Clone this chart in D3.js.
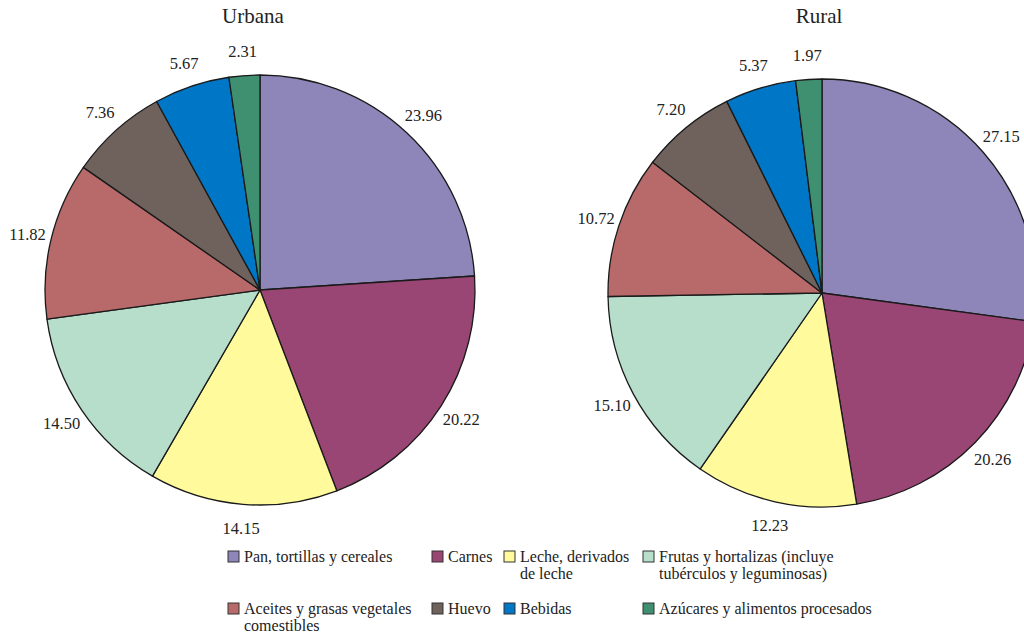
<!DOCTYPE html>
<html>
<head>
<meta charset="utf-8">
<script src="https://cdn.jsdelivr.net/npm/d3@7"></script>
<style>
  body { margin: 0; background: #fff; }
  svg { display: block; font-family: "Liberation Serif", "DejaVu Serif", serif; }
</style>
</head>
<body>
<div id="chart"></div>
<script>
// categories, in drawing order (clockwise from 12 o'clock)
const categories = [
    "Pan, tortillas y cereales",
    "Carnes",
    "Leche, derivados de leche",
    "Frutas y hortalizas (incluye tubérculos y leguminosas)",
    "Aceites y grasas vegetales comestibles",
    "Huevo",
    "Bebidas",
    "Azúcares y alimentos procesados"
];
// legend text split in lines as in the picture
const legendLines = [
    ["Pan, tortillas y cereales"],
    ["Carnes"],
    ["Leche, derivados", "de leche"],
    ["Frutas y hortalizas (incluye", "tubérculos y leguminosas)"],
    ["Aceites y grasas vegetales", "comestibles"],
    ["Huevo"],
    ["Bebidas"],
    ["Azúcares y alimentos procesados"]
];
const urbanaValues = [23.96, 20.22, 14.15, 14.50, 11.82, 7.36, 5.67, 2.31];
const ruralValues = [27.15, 20.26, 12.23, 15.10, 10.72, 7.20, 5.37, 1.97];
const titles = ["Urbana", "Rural"];
const colors = ["#8e86b8", "#9a4674", "#fffa9c", "#b6decb", "#b86a6a", "#6f625d", "#0077c6", "#3f9070"];

const width = 1024, height = 634;

const svg = d3.select("#chart")
    .append("svg")
    .attr("width", width)
    .attr("height", height);

const color = d3.scaleOrdinal().domain(categories).range(colors);

const pie = d3.pie().sort(null).value(d => d);

//Pie settings
const pies = [
    { title: titles[0], values: urbanaValues, cx: 260, cy: 290, r: 215, tx: 253 },
    { title: titles[1], values: ruralValues, cx: 822, cy: 293, r: 214, tx: 819 }
];

pies.forEach(p => {
    const g = svg.append("g").attr("transform", `translate(${p.cx},${p.cy})`);
    const arc = d3.arc().innerRadius(0).outerRadius(p.r);
    const labelArc = d3.arc().innerRadius(p.r + 24).outerRadius(p.r + 24);
    const arcs = pie(p.values);

    g.selectAll("path")
        .data(arcs)
        .enter()
        .append("path")
        .attr("d", arc)
        .attr("fill", (d, i) => color(categories[i]))
        .attr("stroke", "#1a1a1a")
        .attr("stroke-width", 1.3)
        .attr("stroke-linejoin", "round");

    g.selectAll("text.value")
        .data(arcs)
        .enter()
        .append("text")
        .attr("class", "value")
        .attr("transform", d => `translate(${labelArc.centroid(d)})`)
        .attr("text-anchor", "middle")
        .attr("dy", "0.35em")
        .attr("font-size", 16.5)
        .attr("fill", "#222")
        .text(d => d.data.toFixed(2));

    svg.append("text")
        .attr("x", p.tx)
        .attr("y", 23)
        .attr("text-anchor", "middle")
        .attr("font-size", 21)
        .attr("fill", "#222")
        .text(p.title);
});

//Legend
const colX = [228, 432, 504, 643];
const rowY = [556, 608];
const legend = svg.append("g").attr("class", "legend");

categories.forEach((c, i) => {
    const x = colX[i % 4];
    const y = rowY[Math.floor(i / 4)];
    legend.append("rect")
        .attr("x", x)
        .attr("y", y - 5)
        .attr("width", 11)
        .attr("height", 11)
        .attr("fill", color(c))
        .attr("stroke", "#333")
        .attr("stroke-width", 1);
    // one text per line so the lines stay apart
    legendLines[i].forEach((line, j) => {
        legend.append("text")
            .attr("x", x + 16)
            .attr("y", y + 6 + j * 16.5)
            .attr("font-size", 16)
            .attr("fill", "#222")
            .text(line);
    });
});
</script>
</body>
</html>
